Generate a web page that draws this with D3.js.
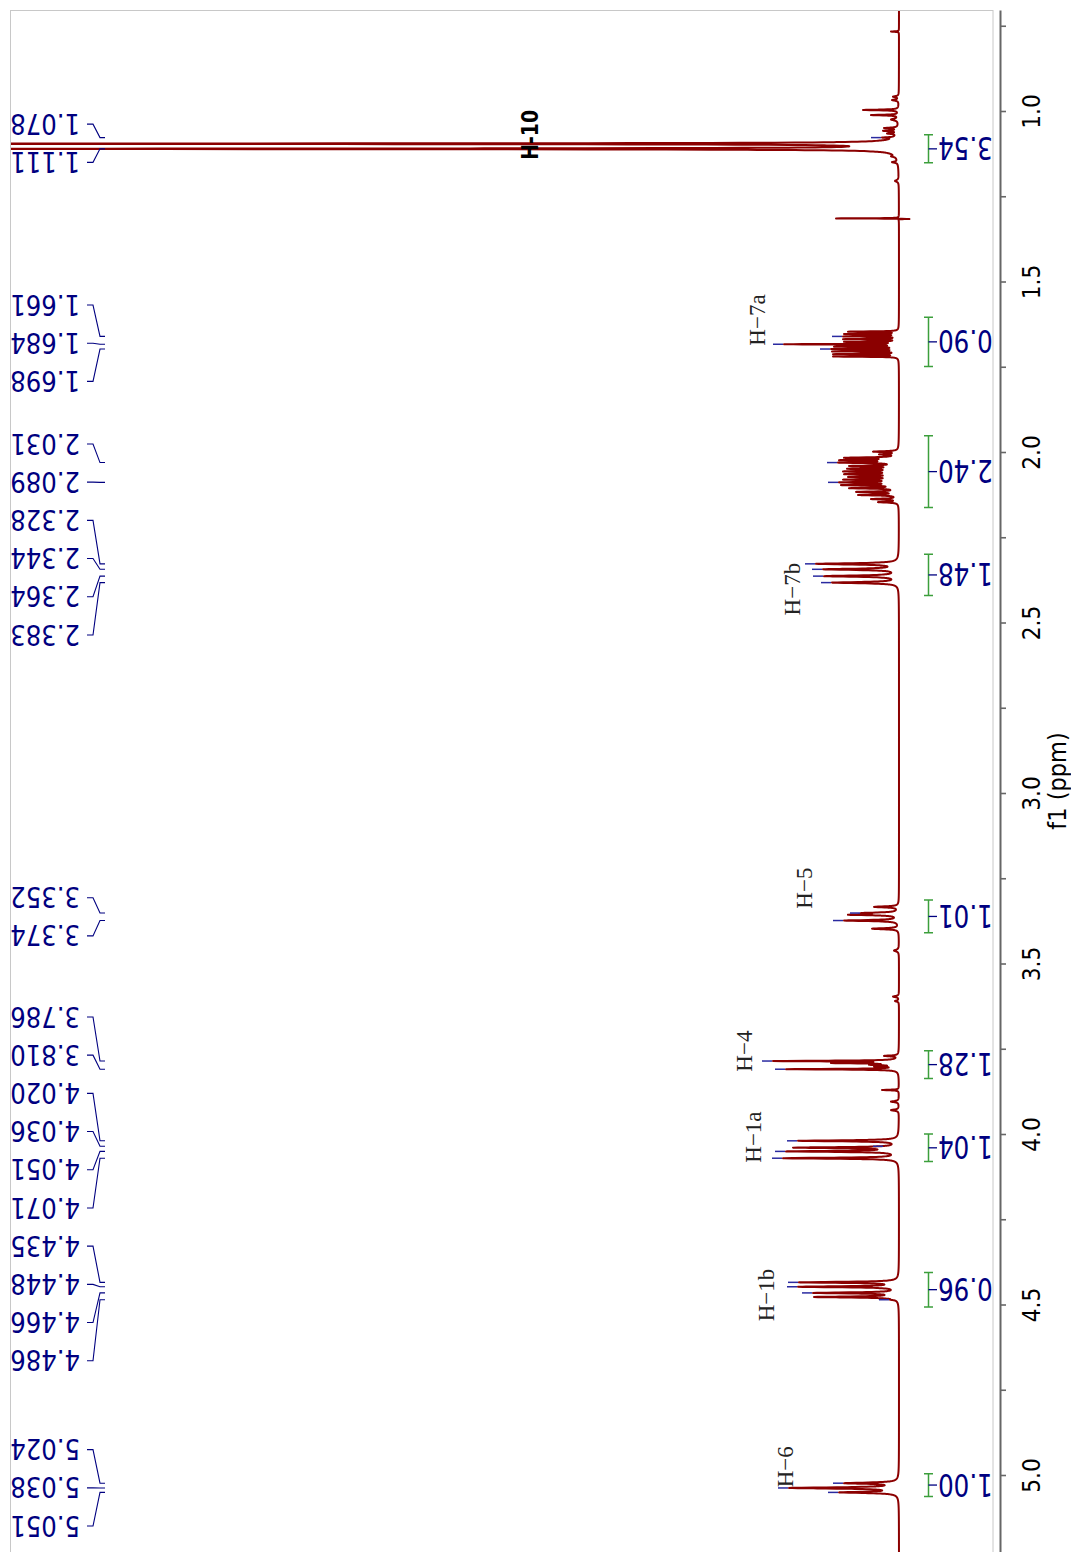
<!DOCTYPE html>
<html>
<head>
<meta charset="utf-8">
<script src="https://cdn.jsdelivr.net/npm/d3@7"></script>
<style>
  html, body { margin: 0; padding: 0; background: #fff; }
  svg { display: block; }
</style>
</head>
<body>
<svg id="chart" width="1071" height="1552"></svg>
<script>
// ---------------------------------------------------------------
// 1H NMR spectrum, drawn with the shift axis running down the page
// and intensity growing towards the left.
// ---------------------------------------------------------------

// Resolved lines: chemical shift (ppm), tip height (intensity units), half-width (ppm)
const peakShift = [
  0.767, 0.958, 0.968, 0.997, 1.012, 1.025, 1.050, 1.058, 1.066, 1.078, 1.096, 1.111, 1.133, 1.150, 1.205, 1.3150, 1.3165,
  1.647, 1.654, 1.661, 1.669, 1.677, 1.684, 1.691, 1.698, 1.705, 1.713, 1.720,
  1.999, 2.007, 2.017, 2.024, 2.031, 2.041, 2.049, 2.057, 2.065, 2.073, 2.081, 2.089, 2.097, 2.106, 2.117, 2.126, 2.138, 2.147,
  2.328, 2.344, 2.364, 2.383,
  3.334, 3.352, 3.357, 3.374, 3.398,
  3.462, 3.597, 3.610, 3.771,
  3.786, 3.792, 3.797, 3.802, 3.810,
  3.871, 3.905, 3.930,
  4.020, 4.036, 4.040, 4.051, 4.071,
  4.435, 4.448, 4.466, 4.478, 4.486,
  5.024, 5.038, 5.051
];
const peakHeight = [
  8, 6, 7, 36, 28, 8, 15, 16, 12, 17, 1000, 1000, 8, 7, 4, 63, -17,
  51, 55, 56, 56, 55, 115, 65, 68, 67, 66, 66,
  26, 20, 55, 60, 61, 50, 52, 56, 55, 51, 56, 60, 58, 50, 43, 41, 28, 21,
  83, 76, 75, 67,
  25, 38, 51, 55, 27,
  5, 6, 4, 15,
  126, 68, 30, 25, 113,
  17, 8, 8,
  101, 15, 106, 113, 116,
  100, 101, 86, 85, 9,
  55, 110, 60
];
const peakWidth = [
  0.0008, 0.002, 0.002, 0.0012, 0.0012, 0.003, 0.0015, 0.0015, 0.0015, 0.0012, 0.0012, 0.0012, 0.002, 0.002, 0.003, 0.0005, 0.0005,
  0.0009, 0.0009, 0.0009, 0.0009, 0.0009, 0.0009, 0.0009, 0.0009, 0.0009, 0.0009, 0.0009,
  0.0016, 0.0016, 0.0016, 0.0016, 0.0016, 0.0016, 0.0016, 0.0016, 0.0016, 0.0016, 0.0016, 0.0016, 0.0016, 0.0016, 0.0016, 0.0016, 0.0016, 0.0016,
  0.0022, 0.0022, 0.0022, 0.0022,
  0.0018, 0.0018, 0.0018, 0.0018, 0.0018,
  0.003, 0.002, 0.002, 0.0015,
  0.0012, 0.0012, 0.0012, 0.0012, 0.0012,
  0.001, 0.002, 0.002,
  0.0018, 0.0012, 0.0018, 0.0018, 0.0018,
  0.0018, 0.0018, 0.0018, 0.0018, 0.0012,
  0.0022, 0.0022, 0.0022
];

// Picked peaks shown in the label column
const pickedShift = [
  1.078, 1.111,
  1.661, 1.684, 1.698,
  2.031, 2.089, 2.328, 2.344, 2.364, 2.383,
  3.352, 3.374,
  3.786, 3.810, 4.020, 4.036, 4.051, 4.071, 4.435, 4.448, 4.466, 4.486,
  5.024, 5.038, 5.051
];

// Integration regions (ppm) and normalised areas
const integralFrom  = [1.070, 1.605, 1.952, 2.300, 3.314, 3.756, 4.000, 4.406, 4.996];
const integralTo    = [1.152, 1.749, 2.163, 2.421, 3.410, 3.837, 4.081, 4.507, 5.063];
const integralValue = ["3.54", "0.90", "2.40", "1.48", "1.01", "1.28", "1.04", "0.96", "1.00"];

// Proton assignments: text, shift of the text centre, intensity level of the text centre
const assignText  = ["H-10", "H\u22127a", "H\u22127b", "H\u22125", "H\u22124", "H\u22121a", "H\u22121b", "H\u22126"];
const assignShift = [1.070, 1.613, 2.402, 3.279, 3.757, 4.009, 4.472, 4.976];
const assignLevel = [369, 141.5, 106.5, 94.7, 154.5, 145.5, 133, 114];

// Shift axis
const majorTicks = [1.0, 1.5, 2.0, 2.5, 3.0, 3.5, 4.0, 4.5, 5.0];
const tickLabels = ["1.0", "1.5", "2.0", "2.5", "3.0", "3.5", "4.0", "4.5", "5.0"];
const minorTicks = [0.75, 1.25, 1.75, 2.25, 2.75, 3.25, 3.75, 4.25, 4.75];
const axisTitle = "f1 (ppm)";

// ---------------------------------------------------------------
const svg = d3.select("#chart");
const NAVY = "#000080";
const RED = "#8b0000";

const yP = d3.scaleLinear().domain([0.7038, 5.2258]).range([10, 1552]);
const xI = d3.scaleLinear().domain([0, 100]).range([899, 799]);

svg.append("rect").attr("width", 1071).attr("height", 1552).attr("fill", "#fff");

// plot frame
svg.append("rect")
  .attr("x", 10.5).attr("y", 10.5).attr("width", 982.5).attr("height", 1600)
  .attr("fill", "none").attr("stroke", "#c8c8c8").attr("stroke-width", 1);

svg.append("clipPath").attr("id", "plotClip")
  .append("rect").attr("x", 11).attr("y", 11).attr("width", 982).attr("height", 1541);

// helper for rotated, horizontally condensed text
function rtext(g, x, y, angle, sx, txt, opts) {
  const t = g.append("g")
    .attr("transform", `translate(${x},${y}) rotate(${angle}) scale(${sx},1)`)
    .append("text")
    .attr("x", 0).attr("y", 0)
    .attr("dy", opts.dy || "0.36em")
    .attr("text-anchor", opts.anchor || "middle")
    .attr("font-family", opts.family || "'DejaVu Sans', sans-serif")
    .attr("font-size", opts.size)
    .attr("font-weight", opts.weight || "normal")
    .attr("fill", opts.fill || "#000")
    .text(txt);
  return t;
}

// ---------------- spectrum trace ----------------
const lor = (p, c, w) => 1 / (1 + ((p - c) / w) * ((p - c) / w));
const n = peakShift.length;
// scale line amplitudes so the summed trace passes through each tip height
const amp = peakHeight.slice();
for (let it = 0; it < 40; it++) {
  for (let i = 0; i < n; i++) {
    if (peakHeight[i] <= 0) continue;
    let s = 0;
    for (let j = 0; j < n; j++) s += amp[j] * lor(peakShift[i], peakShift[j], peakWidth[j]);
    amp[i] *= peakHeight[i] / s;
  }
}
const grid = d3.range(0.700, 5.230, 0.0004);
peakShift.forEach((c, i) => {
  for (let k = -14; k <= 14; k++) grid.push(c + k * peakWidth[i] * 0.3);
});
grid.sort((a, b) => a - b);
const trace = grid.map(p => {
  let v = 0;
  for (let j = 0; j < n; j++) v += amp[j] * lor(p, peakShift[j], peakWidth[j]);
  return { p, v };
});

const specG = svg.append("g").attr("clip-path", "url(#plotClip)");
specG.append("path")
  .datum(trace)
  .attr("fill", "none")
  .attr("stroke", RED)
  .attr("stroke-width", 2)
  .attr("stroke-linejoin", "round")
  .attr("d", d3.line().x(d => xI(d.v)).y(d => yP(d.p)));

// picked-peak tip markers
const markG = svg.append("g").attr("clip-path", "url(#plotClip)");
pickedShift.forEach(s => {
  const h = peakHeight[peakShift.indexOf(s)];
  const xt = xI(h);
  markG.append("line")
    .attr("x1", xt - 11).attr("x2", xt - 1)
    .attr("y1", yP(s)).attr("y2", yP(s))
    .attr("stroke", "#2a2aa0").attr("stroke-width", 1.5);
});

// ---------------- peak label column ----------------
const gap = 38.2;
let clusters = pickedShift.map(s => ({ members: [{ s, t: yP(s) }], c: yP(s) }));
let merged = true;
while (merged) {
  merged = false;
  for (let i = 0; i < clusters.length - 1; i++) {
    const a = clusters[i], b = clusters[i + 1];
    const aEnd = a.c + (a.members.length - 1) / 2 * gap;
    const bStart = b.c - (b.members.length - 1) / 2 * gap;
    if (bStart - aEnd < gap) {
      const m = a.members.concat(b.members);
      clusters.splice(i, 2, { members: m, c: d3.mean(m, d => d.t) });
      merged = true;
      break;
    }
  }
}
const labelG = svg.append("g");
clusters.forEach(cl => {
  const k = cl.members.length;
  cl.members.forEach((d, i) => {
    const ly = cl.c + (i - (k - 1) / 2) * gap;
    labelG.append("path")
      .attr("d", `M87,${ly}H93L100,${d.t}H105`)
      .attr("fill", "none").attr("stroke", NAVY).attr("stroke-width", 1.1);
    rtext(labelG, 80, ly, 180, 0.84, d.s.toFixed(3), { anchor: "start", size: 29, fill: NAVY });
  });
});

// ---------------- integrals ----------------
const intG = svg.append("g");
integralFrom.forEach((f, i) => {
  const y1 = yP(f), y2 = yP(integralTo[i]), ym = (y1 + y2) / 2;
  intG.append("path")
    .attr("d", `M924,${y1}H933M928.5,${y1}V${y2}M924,${y2}H933`)
    .attr("fill", "none").attr("stroke", "#3c9f3c").attr("stroke-width", 1.5);
  intG.append("path")
    .attr("d", `M928.5,${ym}H937`)
    .attr("stroke", NAVY).attr("stroke-width", 1.3);
  rtext(intG, 938, ym, 180, 0.77, integralValue[i], { anchor: "end", size: 32, fill: NAVY });
});

// ---------------- assignments ----------------
const asG = svg.append("g");
assignText.forEach((t, i) => {
  if (i === 0) {
    rtext(asG, xI(assignLevel[i]), yP(assignShift[i]), -90, 0.82, t,
      { size: 23, weight: "bold", fill: "#000" });
  } else {
    rtext(asG, xI(assignLevel[i]), yP(assignShift[i]), -90, 1, t,
      { size: 23, family: "'Liberation Serif', 'DejaVu Serif', serif", fill: "#222", dy: "0.33em" });
  }
});

// ---------------- shift axis ----------------
const axG = svg.append("g").attr("transform", "translate(1000,0)");
axG.call(d3.axisRight(yP).tickValues(minorTicks).tickSize(6).tickSizeOuter(0).tickFormat(""));
axG.call(g => g.select(".domain").remove());
const axM = svg.append("g").attr("transform", "translate(1000,0)");
axM.call(d3.axisRight(yP).tickValues(majorTicks).tickSize(6).tickSizeOuter(0)
  .tickFormat((d, i) => tickLabels[i]));
svg.selectAll(".tick line").attr("stroke", "#666").attr("stroke-width", 1.6);
axM.select(".domain").attr("stroke", "#666").attr("stroke-width", 2);
axM.selectAll(".tick text")
  .attr("x", 0).attr("dy", "0.36em")
  .attr("transform", "translate(31,0) rotate(-90) scale(0.87,1)")
  .attr("text-anchor", "middle")
  .attr("font-family", "'DejaVu Sans', sans-serif")
  .attr("font-size", 25)
  .attr("fill", "#000");

rtext(svg, 1057, 781, -90, 0.9, axisTitle, { size: 25, fill: "#000" });
</script>
</body>
</html>
